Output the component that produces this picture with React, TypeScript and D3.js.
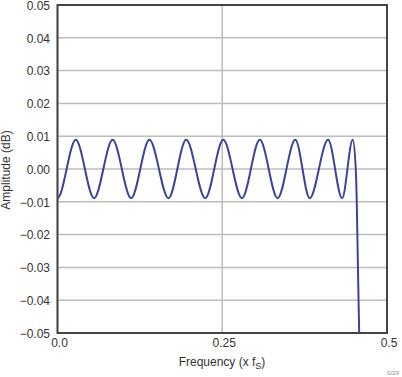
import React from "react";
import * as d3 from "d3";

// Frequency (x fS) of each ripple extremum and of the roll-off
// (first point lies just left of the plot and is clipped, so the ripple enters at a trough)
const frequency = [
  -0.0277, 0.0, 0.0277, 0.0555, 0.0836, 0.1117, 0.1395, 0.1684, 0.1953, 0.2242, 0.2515,
  0.2799, 0.307, 0.334, 0.3609, 0.3827, 0.4106, 0.4319, 0.448, 0.4526, 0.4541,
  0.4559, 0.4578, 0.459,
];
// Amplitude (dB)
const amplitude = [
  0.0089, -0.0089, 0.0089, -0.0089, 0.0089, -0.0089, 0.0089, -0.0089, 0.0089, -0.0089, 0.0089,
  -0.0089, 0.0089, -0.0089, 0.0089, -0.0089, 0.0089, -0.0089, 0.0089, 0.0, -0.01,
  -0.03, -0.05, -0.06,
];

const xTickValues = [0, 0.25, 0.5];
const xTickLabels = ["0.0", "0.25", "0.5"];
const yDomain: [number, number] = [-0.05, 0.05];

const W = 402;
const H = 377;
const M = { left: 57.5, right: 387, top: 5, bottom: 333 };
const FONT = "'Liberation Sans', Arial, sans-serif";

export default function App() {
  const x = d3.scaleLinear().domain([0, 0.5]).range([M.left, M.right]);
  const y = d3.scaleLinear().domain(yDomain).range([M.bottom, M.top]);
  const yTicks = y.ticks(10);
  const fmt = d3.format(".2f");

  const pts = frequency.map((f, i) => [f, amplitude[i]] as [number, number]);
  const line = d3
    .line<[number, number]>()
    .x((d) => x(d[0]))
    .y((d) => y(d[1]))
    .curve(d3.curveMonotoneX);

  return (
    <div style={{ position: "fixed", left: 0, top: 0 }}>
      <svg width={W} height={H} style={{ display: "block" }}>
        <defs>
          <clipPath id="plot">
            <rect x={M.left} y={M.top} width={M.right - M.left} height={M.bottom - M.top} />
          </clipPath>
        </defs>
        <rect x={0} y={0} width={W} height={H} fill="#fff" />
        {/* horizontal grid */}
        {yTicks.map((t) => (
          <line
            key={"hg" + t}
            x1={M.left}
            x2={M.right}
            y1={y(t)}
            y2={y(t)}
            stroke="#bcbcbc"
            strokeWidth={1.5}
          />
        ))}
        {/* vertical grid */}
        {xTickValues.map((t) => (
          <line
            key={"vg" + t}
            x1={x(t)}
            x2={x(t)}
            y1={M.top}
            y2={M.bottom}
            stroke="#bcbcbc"
            strokeWidth={1.5}
          />
        ))}
        {/* curve */}
        <path
          d={line(pts) || ""}
          fill="none"
          stroke="#3a4499"
          strokeWidth={2}
          clipPath="url(#plot)"
        />
        {/* frame */}
        <rect
          x={M.left}
          y={M.top}
          width={M.right - M.left}
          height={M.bottom - M.top}
          fill="none"
          stroke="#444"
          strokeWidth={2}
        />
        {/* y tick labels */}
        {yTicks.map((t) => (
          <text
            key={"yl" + t}
            x={50}
            y={y(t) + 0.5}
            dy="0.35em"
            textAnchor="end"
            fontFamily={FONT}
            fontSize={12}
            fill="#333"
          >
            {fmt(t)}
          </text>
        ))}
        {/* x tick labels */}
        {xTickValues.map((t, i) => (
          <text
            key={"xl" + t}
            x={x(t) + 2}
            y={347}
            textAnchor="middle"
            fontFamily={FONT}
            fontSize={12}
            fill="#333"
          >
            {xTickLabels[i]}
          </text>
        ))}
        {/* axis titles */}
        <text
          x={222}
          y={366}
          textAnchor="middle"
          fontFamily={FONT}
          fontSize={12}
          fill="#333"
        >
          Frequency (x f
          <tspan fontSize={9} dy={3}>S</tspan>
          <tspan dy={-3}>)</tspan>
        </text>
        <text
          transform={`translate(10,170) rotate(-90)`}
          textAnchor="middle"
          fontFamily={FONT}
          fontSize={12}
          fill="#333"
        >
          Amplitude (dB)
        </text>
        <text
          x={399}
          y={375}
          textAnchor="end"
          fontFamily={FONT}
          fontSize={5}
          fontStyle="italic"
          fill="#888"
        >
          G029
        </text>
      </svg>
    </div>
  );
}
